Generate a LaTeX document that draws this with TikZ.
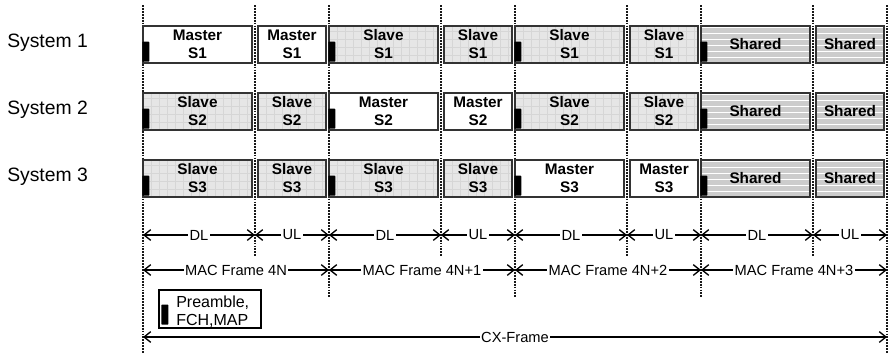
\documentclass[tikz,border=0pt]{standalone}
\usepackage{fontspec}
\setmainfont{Liberation Sans}
\usetikzlibrary{positioning, arrows.meta, calc}
\definecolor{mSlave}{HTML}{E6E6E6}
\definecolor{mSlaveGrid}{HTML}{D6D6D6}
\definecolor{mShared}{HTML}{CCCCCC}
\definecolor{mEdge}{HTML}{333333}

\begin{document}
\begin{tikzpicture}[x=0.75pt, y=-0.75pt,
  slot/.style={draw=mEdge, line width=1.1pt, minimum height=27.75pt, inner sep=0pt,
               align=center, font=\fontsize{11.5}{13.5}\selectfont\bfseries},
  dlslot/.style={slot, minimum width=81.75pt},
  ulslot/.style={slot, minimum width=51pt},
  master/.style={fill=white},
  slave/.style={fill=mSlave, path picture={
      \foreach \k in {1,...,14}
        \draw[mSlaveGrid, line width=0.6pt] ([xshift=\k*6pt]path picture bounding box.south west)
          -- ([xshift=\k*6pt]path picture bounding box.north west);
      \foreach \k in {1,...,4}
        \draw[mSlaveGrid, line width=0.6pt] ([yshift=\k*6pt]path picture bounding box.south west)
          -- ([yshift=\k*6pt]path picture bounding box.south east);
  }},
  shared/.style={fill=mShared, path picture={
      \foreach \k in {1,...,6}
        \draw[white, line width=0.8pt] ([yshift=\k*4.6pt-0.8pt]path picture bounding box.south west)
          -- ([yshift=\k*4.6pt-0.8pt]path picture bounding box.south east);
  }},
  guide/.style={line width=1.7pt, dash pattern=on 1.4pt off 0.8pt, black!90},
  span/.style={line width=1pt,
               {Straight Barb[length=5pt,width=8pt]}-{Straight Barb[length=5pt,width=8pt]}},
  spanlabel/.style={fill=white, inner sep=1pt, font=\fontsize{11}{12}\selectfont},
  preamble/.style={fill=black, rounded corners=0.5pt},
]
  \useasboundingbox (0,0) rectangle (888,354);

  % dotted frame borders
  \foreach \k/\e in {0/354, 1/298, 2/298, 3/298, 4/354} {
    \coordinate (f\k) at (143+186*\k,5);
    \coordinate (fe\k) at (143+186*\k,\e);
    \draw[guide] (f\k) -- (fe\k);
  }
  \foreach \k in {0,...,3} {
    \coordinate (d\k) at (255+186*\k,5);
    \coordinate (de\k) at (255+186*\k,256);
    \draw[guide] (d\k) -- (de\k);
  }

  % systems and their slots
  \foreach \r in {1,2,3}
    \node[anchor=base west, inner sep=0pt, font=\fontsize{14.5}{16}\selectfont] (sys\r)
      at (7,-20+67*\r) {System \r};
  \foreach \r/\k/\kind/\txt in {
      1/0/master/{Master\\S1}, 1/1/slave/{Slave\\S1}, 1/2/slave/{Slave\\S1}, 1/3/shared/Shared,
      2/0/slave/{Slave\\S2}, 2/1/master/{Master\\S2}, 2/2/slave/{Slave\\S2}, 2/3/shared/Shared,
      3/0/slave/{Slave\\S3}, 3/1/slave/{Slave\\S3}, 3/2/master/{Master\\S3}, 3/3/shared/Shared} {
    \pgfmathsetmacro{\cy}{-22.5+67*\r}
    \node[dlslot, \kind] (dl\r\k) at (197.5+186*\k,\cy) {\txt};
    \node[ulslot, \kind] (ul\r\k) at (292+186*\k,\cy) {\txt};
    \fill[preamble] ($(dl\r\k.south west)+(0,-2)$) rectangle ++(7,-20);
  }

  % spans
  \coordinate (dly) at (0,235);
  \coordinate (macy) at (0,270);
  \coordinate (cxy) at (0,337);
  \foreach \k/\n/\lab in {0/1/4N, 1/2/4N+1, 2/3/4N+2, 3/4/4N+3} {
    \draw[span] (f\k |- dly) -- node[spanlabel] {DL} (d\k |- dly);
    \draw[span] (d\k |- dly) -- node[spanlabel] {UL} (f\n |- dly);
    \draw[span] (f\k |- macy) -- node[spanlabel] {MAC Frame \lab} (f\n |- macy);
  }
  \draw[span] (f0 |- cxy) -- node[spanlabel] {CX-Frame} (f4 |- cxy);

  % legend
  \node[draw, line width=0.9pt, minimum width=76.5pt, minimum height=28.5pt, inner sep=0pt]
    (legend) at (210,309) {};
  \fill[preamble] ($(legend.south west)+(3,-4)$) rectangle ++(7,-20);
  \node[anchor=north west, align=left, inner sep=0pt, font=\fontsize{12}{13.5}\selectfont]
    (legendtext) at (176,296) {Preamble,\\FCH,MAP};
\end{tikzpicture}
\end{document}
